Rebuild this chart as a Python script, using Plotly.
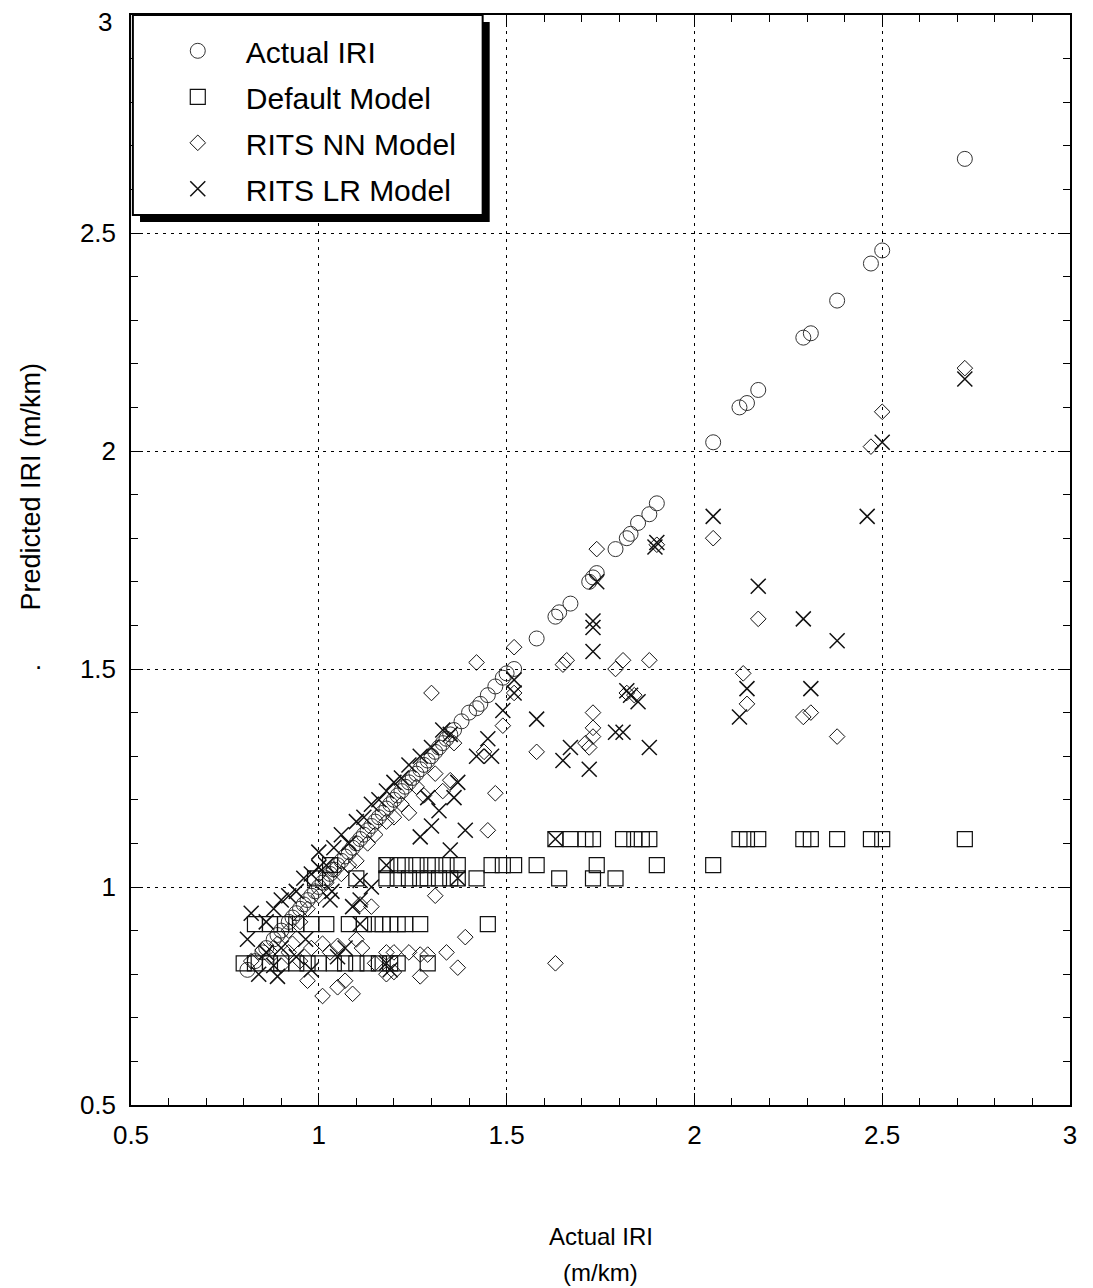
import plotly.graph_objects as go

# ---------------- data ----------------
actual_x = [0.81, 0.83, 0.85, 0.86, 0.88, 0.89, 0.90, 0.92, 0.93, 0.94, 0.95, 0.96, 0.97, 0.98,
            0.99, 1.00, 1.01, 1.02, 1.03, 1.04, 1.05, 1.06, 1.07, 1.08, 1.09, 1.10, 1.11, 1.12,
            1.13, 1.14, 1.15, 1.16, 1.17, 1.18, 1.19, 1.20, 1.21, 1.22, 1.23, 1.24, 1.25, 1.26,
            1.27, 1.28, 1.29, 1.30, 1.31, 1.32, 1.33, 1.34, 1.35, 1.36, 1.38, 1.40, 1.42, 1.43,
            1.45, 1.47, 1.49, 1.50, 1.52, 1.58, 1.63, 1.64, 1.67, 1.72, 1.73, 1.74, 1.79, 1.82,
            1.83, 1.85, 1.88, 1.90, 2.05, 2.12, 2.14, 2.17, 2.29, 2.31, 2.38, 2.47, 2.50, 2.72]
actual_y = [0.81, 0.83, 0.85, 0.86, 0.88, 0.89, 0.90, 0.92, 0.93, 0.94, 0.95, 0.96, 0.97, 0.98,
            0.99, 1.00, 1.01, 1.02, 1.03, 1.04, 1.05, 1.06, 1.07, 1.08, 1.09, 1.10, 1.11, 1.12,
            1.13, 1.14, 1.15, 1.16, 1.17, 1.18, 1.19, 1.20, 1.21, 1.22, 1.23, 1.24, 1.25, 1.26,
            1.27, 1.28, 1.29, 1.30, 1.31, 1.32, 1.33, 1.34, 1.35, 1.36, 1.38, 1.40, 1.41, 1.42,
            1.44, 1.46, 1.48, 1.49, 1.50, 1.57, 1.62, 1.63, 1.65, 1.70, 1.71, 1.72, 1.775, 1.80,
            1.81, 1.835, 1.855, 1.88, 2.02, 2.10, 2.11, 2.14, 2.26, 2.27, 2.345, 2.43, 2.46, 2.67]

default_x = [0.80, 0.83, 0.87, 0.90, 0.94, 0.97, 1.00, 1.04, 1.07, 1.10, 1.13, 1.16, 1.19, 1.21, 1.29,
             0.83, 0.87, 0.91, 0.94, 0.98, 1.02, 1.08, 1.12, 1.15, 1.17, 1.19, 1.21, 1.23, 1.27, 1.45,
             0.99, 1.10, 1.18, 1.21, 1.24, 1.27, 1.29, 1.32, 1.35, 1.37, 1.42, 1.64, 1.73, 1.79,
             1.03, 1.18, 1.21, 1.23, 1.26, 1.29, 1.31, 1.34, 1.37, 1.46, 1.49, 1.52, 1.58, 1.74, 1.90, 2.05,
             1.63, 1.67, 1.71, 1.73, 1.81, 1.84, 1.86, 1.88, 2.12, 2.14, 2.17, 2.29, 2.31, 2.38, 2.47, 2.50, 2.72]
default_y = [0.825] * 15 + [0.915] * 15 + [1.02] * 14 + [1.05] * 16 + [1.11] * 17

nn_x = [2.72, 2.50, 2.47, 2.05, 2.17, 2.13, 2.14, 2.29, 2.31, 2.38,
        1.90, 1.74, 1.52, 1.65, 1.66, 1.79, 1.81, 1.88,
        1.52, 1.49, 1.58, 1.82, 1.84, 1.73, 1.73, 1.73, 1.72, 1.71,
        1.47, 1.45, 1.42, 1.30, 1.44,
        1.36, 1.35, 1.33, 1.31, 1.28, 1.26, 1.24, 1.22, 1.20, 1.18, 1.15, 1.13, 1.10, 1.08,
        1.06, 1.04, 1.02, 1.00, 0.97, 0.95, 0.92, 0.89,
        1.31, 1.14, 1.11, 1.39, 1.34, 1.37, 1.24, 1.27, 1.29, 1.27, 1.18, 1.20, 1.01, 0.97,
        1.05, 1.07, 1.09, 1.10, 1.115, 1.01, 1.05, 1.03, 1.15, 1.18, 1.20, 1.63,
        0.82, 0.85, 0.87, 0.90, 0.92, 0.95, 0.93, 0.98]
nn_y = [2.19, 2.09, 2.01, 1.80, 1.615, 1.49, 1.42, 1.39, 1.40, 1.345,
        1.785, 1.775, 1.55, 1.51, 1.52, 1.50, 1.52, 1.52,
        1.445, 1.37, 1.31, 1.445, 1.44, 1.40, 1.365, 1.345, 1.32, 1.33,
        1.215, 1.13, 1.515, 1.445, 1.31,
        1.33, 1.245, 1.22, 1.26, 1.21, 1.23, 1.17, 1.19, 1.16, 1.15, 1.12, 1.10, 1.06, 1.05,
        1.03, 1.04, 1.01, 0.98, 0.95, 0.92, 0.90, 0.87,
        0.98, 0.955, 0.96, 0.885, 0.85, 0.815, 0.85, 0.845, 0.845, 0.795, 0.80, 0.805, 0.75, 0.785,
        0.77, 0.785, 0.755, 0.88, 0.86, 0.87, 0.865, 0.85, 0.825, 0.85, 0.85, 0.825,
        0.83, 0.855, 0.84, 0.82, 0.85, 0.83, 0.87, 0.86]

lr_x = [2.72, 2.50, 2.05, 2.46, 2.17, 2.29, 2.38, 2.14, 2.12, 2.31,
        1.90, 1.895, 1.74, 1.73, 1.73, 1.73, 1.52, 1.52, 1.49, 1.58, 1.83, 1.82, 1.85,
        1.79, 1.81, 1.88, 1.67, 1.65, 1.72, 1.45, 1.46, 1.42, 1.33, 1.24,
        1.29, 1.32, 1.30, 1.27, 1.35, 1.39, 1.37, 1.36, 1.63, 1.18, 1.37, 1.11, 1.00,
        0.82, 0.86, 0.88, 0.90, 0.92, 0.94, 0.96, 0.98, 1.00, 1.02, 1.04, 1.06, 1.08, 1.10,
        1.12, 1.14, 1.16, 1.18, 1.20, 1.22, 1.27, 1.30, 1.35,
        0.81, 0.89, 0.965, 1.03, 1.035, 1.09, 1.11, 1.07, 1.11, 1.18, 1.19, 0.86, 0.90,
        0.94, 0.88, 0.98, 0.84, 1.05, 1.14]
lr_y = [2.165, 2.02, 1.85, 1.85, 1.69, 1.615, 1.565, 1.455, 1.39, 1.455,
        1.79, 1.78, 1.70, 1.61, 1.595, 1.54, 1.475, 1.445, 1.405, 1.385, 1.44, 1.45, 1.425,
        1.355, 1.355, 1.32, 1.32, 1.29, 1.27, 1.34, 1.30, 1.30, 1.36, 1.28,
        1.205, 1.175, 1.14, 1.115, 1.085, 1.13, 1.24, 1.205, 1.11, 1.05, 1.02, 1.015, 1.045,
        0.94, 0.92, 0.95, 0.97, 0.98, 0.99, 1.02, 1.03, 1.08, 1.05, 1.09, 1.12, 1.10, 1.15,
        1.16, 1.19, 1.20, 1.22, 1.24, 1.25, 1.30, 1.32, 1.35,
        0.88, 0.795, 0.88, 0.97, 0.99, 0.955, 0.97, 0.86, 0.915, 0.825, 0.81, 0.85, 0.86,
        0.84, 0.82, 0.81, 0.80, 0.84, 1.00]

series_names = ["Actual IRI", "Default Model", "RITS NN Model", "RITS LR Model"]
tick_vals = [0.5, 1, 1.5, 2, 2.5, 3]
x_tick_text = ["0.5", "1", "1.5", "2", "2.5", "3"]
y_tick_text = ["0.5", "1", "1.5", "2", "2.5", ""]   # top "3" placed separately (sits lower)
y_top_label = "3"

# ---------------- figure ----------------
INK = "#111111"
fig = go.Figure()
fig.add_trace(go.Scatter(x=actual_x, y=actual_y, mode="markers", name=series_names[0],
                         legendgroup="a",
                         marker=dict(symbol="circle-open", size=15, color="#333333",
                                     line=dict(width=1))))
fig.add_trace(go.Scatter(x=default_x, y=default_y, mode="markers", name=series_names[1],
                         legendgroup="b",
                         marker=dict(symbol="square-open", size=15, color=INK,
                                     line=dict(width=1.2))))
fig.add_trace(go.Scatter(x=nn_x, y=nn_y, mode="markers", name=series_names[2],
                         legendgroup="c",
                         marker=dict(symbol="diamond-open", size=12, color=INK,
                                     line=dict(width=1))))
fig.add_trace(go.Scatter(x=lr_x, y=lr_y, mode="markers", name=series_names[3],
                         legendgroup="d",
                         marker=dict(symbol="x-thin-open", size=15, color=INK,
                                     line=dict(width=1.5))))

tick_font = dict(family="Liberation Sans, Arial", size=26, color="black")
axis_common = dict(
    range=[0.5, 3], tickvals=tick_vals, automargin=False,
    showline=True, linecolor="black", linewidth=1.5, mirror="ticks",
    ticks="inside", ticklen=12, tickcolor="black", tickwidth=1,
    showgrid=True, gridcolor="black", gridwidth=1, griddash="3px,5px",
    zeroline=False, tickfont=tick_font, ticklabeloverflow="allow",
    minor=dict(dtick=0.1, tick0=0.5, ticks="inside", ticklen=7, tickcolor="black",
               showgrid=False),
)
fig.update_xaxes(**axis_common, ticktext=x_tick_text, ticklabelstandoff=6)
fig.update_yaxes(**axis_common, ticktext=y_tick_text, ticklabelstandoff=8)

fig.add_annotation(text=y_top_label, xref="paper", yref="y", x=-0.018, y=3,
                   xanchor="right", yanchor="middle", yshift=-7, showarrow=False,
                   font=tick_font)

# legend box with drop shadow
fig.add_shape(type="rect", xref="paper", yref="paper", x0=0.0096, x1=0.382,
              y0=0.810, y1=0.9936, fillcolor="black", line=dict(width=0), layer="above")
fig.add_shape(type="rect", xref="paper", yref="paper", x0=0.002, x1=0.3745,
              y0=0.8165, y1=1.0, fillcolor="white", line=dict(color="black", width=2),
              layer="above")

fig.add_annotation(text="Predicted IRI (m/km)", xref="paper", yref="paper",
                   x=-0.107, y=0.567, textangle=-90, showarrow=False,
                   xanchor="center", yanchor="middle",
                   font=dict(family="Liberation Sans, Arial", size=27, color="black"))
fig.add_annotation(text=".", xref="paper", yref="paper", x=-0.104, y=0.408,
                   showarrow=False,
                   font=dict(family="Liberation Sans, Arial", size=26, color="black"))
fig.add_annotation(text="Actual IRI", xref="paper", yref="paper",
                   x=0.5, y=-0.1202, showarrow=False, xanchor="center", yanchor="middle",
                   font=dict(family="Liberation Sans, Arial", size=24, color="black"))
fig.add_annotation(text="(m/km)", xref="paper", yref="paper",
                   x=0.5, y=-0.1541, showarrow=False, xanchor="center", yanchor="middle",
                   font=dict(family="Liberation Sans, Arial", size=24, color="black"))

fig.update_layout(
    width=1093, height=1288,
    margin=dict(l=123, r=31, t=7, b=191, autoexpand=False),
    paper_bgcolor="white", plot_bgcolor="white",
    showlegend=True,
    legend=dict(x=0.02, y=0.991, xanchor="left", yanchor="top",
                bgcolor="rgba(0,0,0,0)", borderwidth=0,
                font=dict(family="Liberation Sans, Arial", size=30, color="black"),
                itemwidth=86, traceorder="grouped", tracegroupgap=4),
)

fig.write_html("out.html")
